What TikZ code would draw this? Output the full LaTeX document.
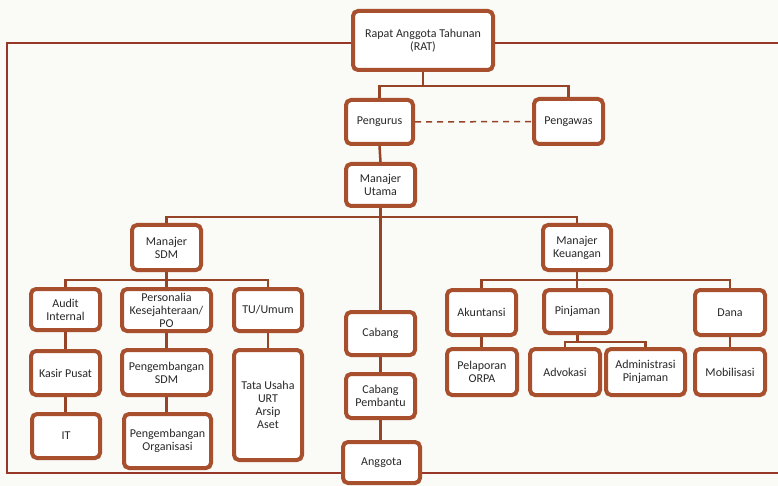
\documentclass[tikz,border=0pt]{standalone}
\usepackage{fontspec}
\setmainfont{Carlito}
\usepackage{tikz}
\usetikzlibrary{shadows}

\definecolor{boxbrown}{RGB}{168,80,45}
\definecolor{wirebrown}{RGB}{150,68,40}
\definecolor{framered}{RGB}{150,55,40}
\definecolor{paper}{RGB}{250,250,246}
\definecolor{inktext}{RGB}{40,40,40}

\tikzset{
	unit/.style={draw=boxbrown, line width=4pt, rounded corners=5pt, fill=white,
		align=center, inner sep=1pt, text=inktext, font=\fontsize{12}{13}\selectfont,
		drop shadow={shadow xshift=1pt, shadow yshift=-1.5pt, fill=black, opacity=0.22}},
	wire/.style={draw=wirebrown, line width=2.5pt},
	framewire/.style={draw=framered, line width=1.2pt},
}

\begin{document}
\begin{tikzpicture}[x=1pt, y=-1pt]
				% Paper and size:
				\fill[paper] (0,0) rectangle (778,486);
				\useasboundingbox (0,0) rectangle (778,486);
				% Nodes, top levels:
				\node[unit, minimum width=140pt, minimum height=59pt](rat) at (423, 40.5){Rapat Anggota Tahunan\\(RAT)};
				\node[unit, minimum width=67pt, minimum height=44pt](pengurus) at (379.5, 122){Pengurus};
				\node[unit, minimum width=69pt, minimum height=45pt](pengawas) at (568.5, 121.5){Pengawas};
				\node[unit, minimum width=69pt, minimum height=42pt](utama) at (380.5, 185){Manajer\\Utama};
				\node[unit, minimum width=69pt, minimum height=45pt](sdm) at (166.5, 247.5){Manajer\\SDM};
				\node[unit, minimum width=68pt, minimum height=45pt](keu) at (577, 247.5){Manajer\\Keuangan};
				% Nodes, SDM side:
				\node[unit, minimum width=69pt, minimum height=41pt](audit) at (65.5, 309.5){Audit\\Internal};
				\node[unit, minimum width=89pt, minimum height=42pt](personalia) at (166.5, 310){Personalia\\Kesejahteraan/\\PO};
				\node[unit, minimum width=68pt, minimum height=42pt](tu) at (268, 310){TU/Umum};
				\node[unit, minimum width=69pt, minimum height=44pt](kasir) at (65.5, 373){Kasir Pusat};
				\node[unit, minimum width=89pt, minimum height=45pt](pengsdm) at (166.5, 372.5){Pengembangan\\SDM};
				\node[unit, minimum width=68pt, minimum height=110pt](tata) at (268, 405){Tata Usaha\\URT\\Arsip\\Aset};
				\node[unit, minimum width=68pt, minimum height=44pt](it) at (66, 436){IT};
				\node[unit, minimum width=87pt, minimum height=54pt](pengorg) at (167.5, 441){Pengembangan\\Organisasi};
				% Nodes, middle:
				\node[unit, minimum width=69pt, minimum height=43pt](cabang) at (380.5, 333.5){Cabang};
				\node[unit, minimum width=69pt, minimum height=44pt](cabpem) at (380.5, 396){Cabang\\Pembantu};
				\node[unit, minimum width=77pt, minimum height=41pt](anggota) at (381.5, 462.5){Anggota};
				% Nodes, Keuangan side:
				\node[unit, minimum width=69pt, minimum height=45pt](akun) at (481.5, 312.5){Akuntansi};
				\node[unit, minimum width=67pt, minimum height=43pt](pinj) at (577.5, 311.5){Pinjaman};
				\node[unit, minimum width=70pt, minimum height=45pt](dana) at (730, 312.5){Dana};
				\node[unit, minimum width=70pt, minimum height=46pt](pelap) at (482, 372){Pelaporan\\ORPA};
				\node[unit, minimum width=70pt, minimum height=46pt](advo) at (565, 372){Advokasi};
				\node[unit, minimum width=79pt, minimum height=46pt](admin) at (645.5, 372){Administrasi\\Pinjaman};
				\node[unit, minimum width=70pt, minimum height=46pt](mobil) at (730, 372){Mobilisasi};
				% Bus points:
				\coordinate (ratbus) at (423, 86);
				\coordinate (utamabus) at (380.5, 217);
				\coordinate (sdmbus) at (166.5, 280);
				\coordinate (keubus) at (577, 280);
				\coordinate (pinjbus) at (577.5, 342);
				\coordinate (frametl) at (7, 43);
				\coordinate (framebl) at (7, 473);
				\coordinate (framebr) at (778, 473);
				\coordinate (frametr) at (778, 43);
				% Frame:
				\draw[framewire] ([yshift=-2.5pt]rat.west) -- (frametl) -- (framebl) -- (framebl -| anggota.west);
				\draw[framewire] (framebr -| anggota.east) -- (framebr);
				\draw[framewire] ([yshift=-2.5pt]rat.east) -- (frametr);
				% Wires:
				\draw[wire] (rat.south) -- (ratbus);
				\draw[wire] (pengurus.north) |- (ratbus) -| (pengawas.north);
				\draw[wire, line width=1.5pt, dash pattern=on 6pt off 5pt] (pengurus.east) -- (pengawas.west);
				\draw[wire] (pengurus.south) -- (utama.north);
				\draw[wire] (utama.south) -- (cabang.north);
				\draw[wire] (sdm.north) |- (utamabus) -| (keu.north);
				\draw[wire] (sdm.south) -- (sdmbus) -- (personalia.north);
				\draw[wire] (audit.north) |- (sdmbus) -| (tu.north);
				\draw[wire] (audit.south) -- (kasir.north);
				\draw[wire] (kasir.south) -- (it.north -| kasir.south);
				\draw[wire] (personalia.south) -- (pengsdm.north);
				\draw[wire] (pengsdm.south) -- (pengorg.north -| pengsdm.south);
				\draw[wire] (tu.south) -- (tata.north);
				\draw[wire] (cabang.south) -- (cabpem.north);
				\draw[wire] (cabpem.south) -- (anggota.north -| cabpem.south);
				\draw[wire] (keu.south) -- (keubus) -- (pinj.north -| keubus);
				\draw[wire] (akun.north) |- (keubus) -| (dana.north);
				\draw[wire] (akun.south) -- (pelap.north -| akun.south);
				\draw[wire] (pinj.south) -- (pinjbus);
				\draw[wire] (advo.north) |- (pinjbus) -| (admin.north);
				\draw[wire] (dana.south) -- (mobil.north);
			\end{tikzpicture}
\end{document}
